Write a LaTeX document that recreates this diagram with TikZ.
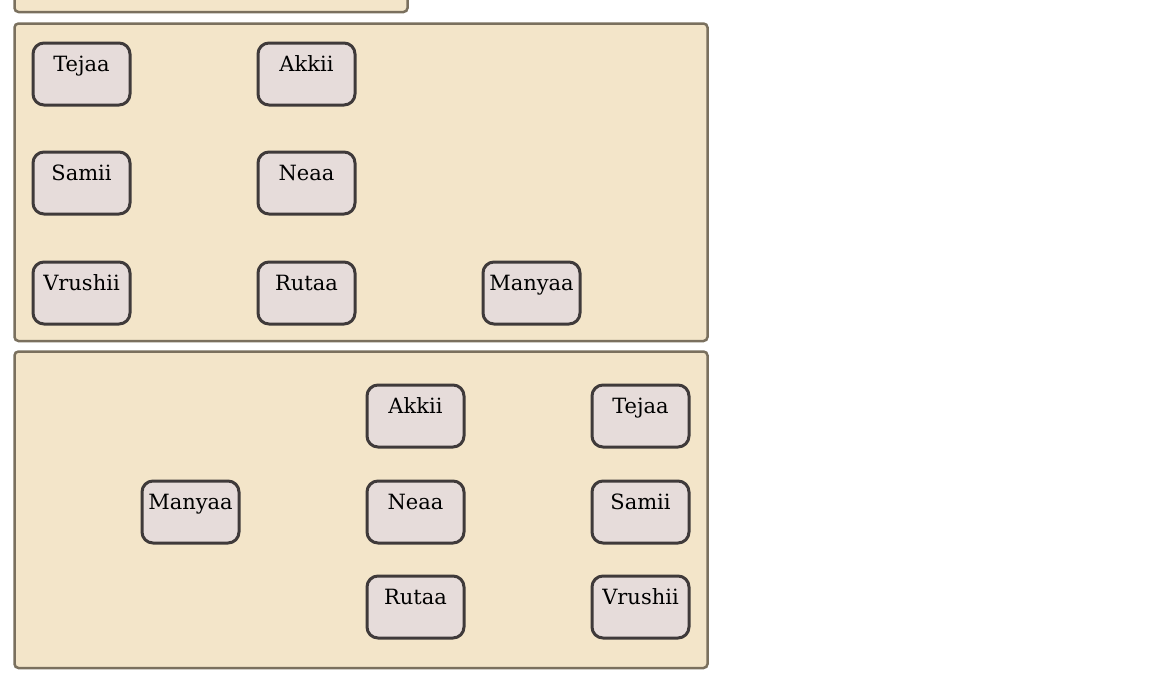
\documentclass[tikz,border=0pt]{standalone}
\usepackage{fontspec}
\setmainfont{DejaVu Serif}
\definecolor{panelfill}{HTML}{F3E5C9}
\definecolor{paneldraw}{HTML}{7A705E}
\definecolor{nodefill}{HTML}{E6DCDA}
\definecolor{nodedraw}{HTML}{3F3A3A}
\tikzset{
  panel/.style={draw=paneldraw, fill=panelfill, line width=2.5pt, rounded corners=4pt},
  person/.style={draw=nodedraw, fill=nodefill, line width=3pt, rounded corners=11pt,
    minimum width=97pt, inner sep=0pt, text height=28pt, text depth=34pt,
    font=\fontsize{21}{24}\selectfont, anchor=north west}
}
\begin{document}
\begin{tikzpicture}[x=1pt,y=-1pt]
\useasboundingbox (0,0) rectangle (1150,680);
% panels
\draw[panel] (14.5,-20) rectangle (407.5,12);
\draw[panel] (14.5,23.5) rectangle (707.5,341);
\draw[panel] (14.5,351.5) rectangle (707.5,668);
% panel 2
\node[person] (a1) at (31.5,41.5) {Tejaa};
\node[person] (a2) at (256.5,41.5) {Akkii};
\node[person] (a3) at (31.5,150.5) {Samii};
\node[person] (a4) at (256.5,150.5) {Neaa};
\node[person] (a5) at (31.5,260.5) {Vrushii};
\node[person] (a6) at (256.5,260.5) {Rutaa};
\node[person] (a7) at (481.5,260.5) {Manyaa};
% panel 3
\node[person] (b1) at (365.5,383.5) {Akkii};
\node[person] (b2) at (590.5,383.5) {Tejaa};
\node[person] (b3) at (140.5,479.5) {Manyaa};
\node[person] (b4) at (365.5,479.5) {Neaa};
\node[person] (b5) at (590.5,479.5) {Samii};
\node[person] (b6) at (365.5,574.5) {Rutaa};
\node[person] (b7) at (590.5,574.5) {Vrushii};
\end{tikzpicture}
\end{document}
